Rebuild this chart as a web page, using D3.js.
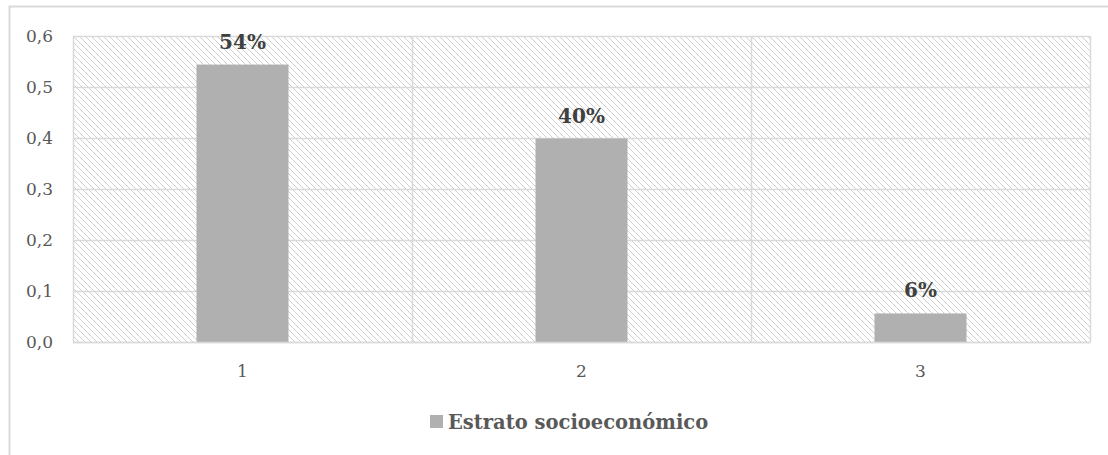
<!DOCTYPE html>
<html><head><meta charset="utf-8">
<script src="https://cdn.jsdelivr.net/npm/d3@7"></script>
<style>body{margin:0;background:#fff}svg{display:block}</style>
</head><body>
<svg id="c" width="1108" height="455"></svg>
<script>
const categories = ["1","2","3"];
const values = [0.544, 0.399, 0.056];
const labels = ["54%","40%","6%"];
const yTicks = [0,0.1,0.2,0.3,0.4,0.5,0.6];
const seriesName = "Estrato socioeconómico";

const svg = d3.select("#c");
const W=1108,H=455;
const m={left:73,top:36,right:W-1090,bottom:H-342};
const iw=W-m.left-m.right, ih=H-m.top-m.bottom;

// outer border
svg.append("path").attr("d",`M9.5,${H} V6.5 H${W}`).attr("fill","none").attr("stroke","#d9d9d9").attr("stroke-width",2);

const defs=svg.append("defs");
const pat=defs.append("pattern").attr("id","hatch").attr("patternUnits","userSpaceOnUse").attr("width",6).attr("height",6);
pat.append("rect").attr("width",6).attr("height",6).attr("fill","#fff");
for(let i=0;i<6;i++) pat.append("rect").attr("x",i).attr("y",i).attr("width",1).attr("height",1).attr("fill","#cfcfcf");

const g=svg.append("g").attr("transform",`translate(${m.left},${m.top})`);
const x=d3.scaleBand().domain(categories).range([0,iw]).paddingInner(0).paddingOuter(0);
const y=d3.scaleLinear().domain([0,0.6]).range([ih,0]);

g.append("rect").attr("width",iw).attr("height",ih).attr("fill","url(#hatch)");

// gridlines
g.selectAll(".hg").data(yTicks).join("line").attr("x1",0).attr("x2",iw)
 .attr("y1",d=>Math.round(y(d))+0.5).attr("y2",d=>Math.round(y(d))+0.5).attr("stroke","#d9d9d9").attr("stroke-width",1.5);
const vb=[0].concat(categories.map(c=>x(c)+x.bandwidth()));
g.selectAll(".vg").data(vb).join("line").attr("y1",0).attr("y2",ih)
 .attr("x1",d=>Math.round(d)+0.5).attr("x2",d=>Math.round(d)+0.5).attr("stroke","#d9d9d9").attr("stroke-width",1.5);

// bars
const bw=92;
g.selectAll(".bar").data(values).join("rect")
 .attr("x",(d,i)=>x(categories[i])+x.bandwidth()/2-bw/2).attr("width",bw)
 .attr("y",d=>y(d)).attr("height",d=>ih-y(d)).attr("fill","#b0b0b0");

g.selectAll(".lbl").data(values).join("text")
 .attr("x",(d,i)=>x(categories[i])+x.bandwidth()/2).attr("y",d=>y(d)-16)
 .attr("text-anchor","middle").attr("font-family","DejaVu Serif").attr("font-weight","bold")
 .attr("font-size",20).attr("fill","#404040").text((d,i)=>labels[i]);

// axes
const yAxis=d3.axisLeft(y).tickValues(yTicks).tickSize(0).tickPadding(20).tickFormat(d=>d3.format(".1f")(d).replace(".",","));
const ya=g.append("g").call(yAxis);
ya.select(".domain").remove();
ya.selectAll("text").attr("font-family","DejaVu Serif").attr("font-size",17).attr("fill","#595959");

const xAxis=d3.axisBottom(x).tickSize(0).tickPadding(23);
const xa=g.append("g").attr("transform",`translate(0,${ih})`).call(xAxis);
xa.select(".domain").attr("stroke","#d9d9d9").attr("stroke-width",1.5);
xa.selectAll("text").attr("font-family","DejaVu Serif").attr("font-size",17).attr("fill","#595959");

// legend
const lg=svg.append("g").attr("transform","translate(430,415)");
lg.append("rect").attr("width",13).attr("height",13).attr("fill","#b0b0b0");
lg.append("text").attr("x",18).attr("y",14).attr("font-family","DejaVu Serif").attr("font-weight","bold")
 .attr("font-size",19.5).attr("fill","#595959").text(seriesName);
</script>
</body></html>
